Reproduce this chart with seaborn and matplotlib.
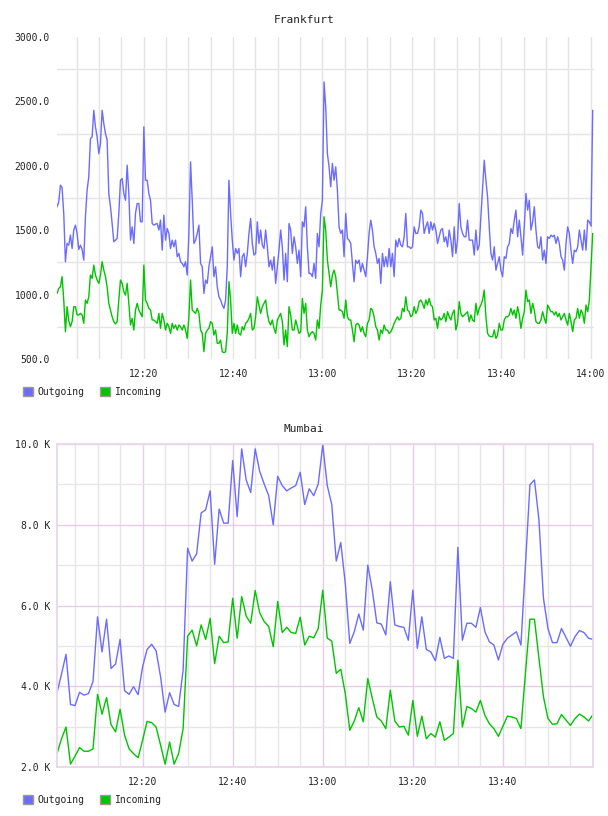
import numpy as np
import pandas as pd
import matplotlib
matplotlib.use("Agg")
import matplotlib.pyplot as plt
import matplotlib.dates as mdates
from matplotlib.ticker import FixedLocator, FuncFormatter
from matplotlib.patches import Patch
import seaborn as sns

DAY = "2024-01-01 "

# Frankfurt: one sample every 22.4 s
frankfurt_start = DAY + "12:00:37"
frankfurt_step = "22400ms"
frankfurt_out = [
    1682, 1720, 1850, 1831, 1630, 1255, 1397, 1384, 1462, 1358, 1501, 1539, 1475, 1351, 1384, 1351,
    1268, 1604, 1811, 1914, 2212, 2224, 2431, 2302, 2224, 2095, 2173, 2431, 2328, 2250, 2199, 1785,
    1682, 1552, 1410, 1423, 1436, 1630, 1888, 1901, 1785, 1733, 2005, 1785, 1423, 1526, 1397, 1630,
    1707, 1707, 1565, 1565, 2302, 1888, 1888, 1785,
    1733, 1552, 1539, 1547, 1552, 1501, 1578, 1345, 1617, 1423,
    1513, 1475, 1358, 1423, 1371, 1423, 1294, 1320, 1255, 1242,
    1216, 1255, 1152, 1475, 2031, 1733, 1397, 1423, 1475, 1539,
    1242, 1216, 1009, 1113, 1087, 1216, 1294, 1371, 1139, 1216,
    1061, 983, 958, 919, 893, 958, 1216, 1888, 1630, 1423,
    1268, 1358, 1320, 1358, 1139, 1294, 1320, 1216, 1320, 1475,
    1591, 1397, 1307, 1320, 1565, 1397, 1501, 1384, 1358, 1501,
    1371, 1216, 1268, 1190, 1294, 1087, 1216, 1345, 1501, 1371,
    1113, 1320, 1100, 1552, 1501, 1320, 1449, 1371, 1242, 1345,
    1139, 1565, 1526, 1682, 1371, 1164, 1164, 1139, 1242, 1126,
    1475, 1371, 1630, 1733, 2651, 2457, 2095, 1992, 1837, 2018,
    1888, 1992, 1811, 1526, 1475, 1501, 1294, 1630, 1436, 1423,
    1397, 1242, 1100, 1268, 1242, 1268, 1177, 1242, 1190, 1139,
    1294, 1475, 1578, 1501, 1371, 1320, 1242, 1281, 1087, 1320,
    1216, 1294, 1216, 1358, 1216, 1320, 1139, 1423, 1371, 1436,
    1384, 1371, 1449, 1630, 1371, 1371, 1358, 1371, 1526, 1475,
    1475, 1526, 1656, 1630, 1475, 1526, 1565, 1475, 1565, 1501,
    1552, 1501, 1397, 1449, 1501, 1513, 1410, 1449, 1371, 1501,
    1423, 1294, 1526, 1320, 1423, 1707, 1526, 1475, 1449, 1449,
    1578, 1423, 1423, 1423, 1307, 1501, 1345, 1384, 1604, 1837,
    2043, 1888, 1759, 1526, 1320, 1268, 1371, 1190, 1242, 1294,
    1190, 1139, 1294, 1281, 1371, 1397, 1513, 1475, 1578, 1656,
    1449, 1578, 1449, 1307, 1526, 1785, 1656, 1733, 1501, 1565,
    1682, 1501, 1371, 1358, 1449, 1268, 1345, 1242, 1449, 1436,
    1462, 1449, 1462, 1397, 1449, 1397, 1294, 1268, 1190, 1397,
    1526, 1475, 1345, 1242, 1345, 1333, 1371, 1501, 1423, 1345,
    1501, 1345, 1578, 1565, 1532, 2431,
]
frankfurt_in = [
    1009, 1048, 1061, 1139, 958, 712, 906, 797, 751, 790, 906, 906, 842, 842, 854, 842,
    777, 958, 932, 983, 1152, 1126, 1229, 1152, 1113, 1087, 1152, 1255, 1190, 1139, 1061, 932,
    880, 828, 790, 772, 790, 958, 1113, 1087, 1022, 996, 1087, 932, 764, 816, 725, 880,
    932, 880, 854, 828, 1229, 958, 932, 893,
    880, 803, 803, 790, 777, 854, 738, 854, 803, 725,
    777, 751, 699, 777, 738, 764, 725, 764, 751, 725,
    764, 725, 660, 828, 1113, 880, 867, 854, 893, 854,
    725, 699, 557, 699, 725, 738, 790, 777, 686, 725,
    622, 622, 647, 557, 549, 557, 699, 1100, 958, 699,
    777, 699, 764, 699, 686, 751, 725, 777, 790, 816,
    854, 725, 738, 828, 983, 919, 854, 906, 932, 958,
    854, 790, 764, 803, 738, 699, 803, 828, 854, 790,
    609, 725, 596, 906, 842, 725, 725, 803, 751, 699,
    712, 970, 854, 932, 725, 673, 699, 712, 699, 647,
    803, 738, 919, 1035, 1604, 1501, 1268, 1164, 1061, 1152,
    1190, 1139, 1009, 880, 880, 867, 816, 958, 828, 803,
    803, 725, 634, 764, 777, 764, 712, 751, 699, 673,
    777, 803, 893, 880, 828, 751, 725, 647, 725, 699,
    764, 725, 725, 699, 712, 738, 777, 803, 828, 803,
    816, 893, 867, 983, 880, 867, 828, 842, 906, 854,
    880, 945, 958, 932, 893, 958, 919, 970, 919, 906,
    803, 816, 738, 828, 803, 816, 854, 790, 867, 828,
    803, 854, 880, 725, 777, 945, 854, 828, 842, 854,
    867, 790, 842, 803, 790, 932, 842, 893, 919, 958,
    1035, 828, 699, 678, 673, 673, 725, 660, 686, 777,
    725, 725, 803, 828, 828, 842, 893, 842, 880, 816,
    906, 842, 738, 816, 867, 1035, 945, 958, 854, 932,
    880, 790, 777, 777, 803, 867, 816, 777, 919, 893,
    867, 867, 842, 867, 828, 854, 803, 828, 854, 803,
    764, 854, 790, 712, 803, 816, 893, 816, 880, 854,
    777, 919, 867, 958, 1216, 1475,
]

# Mumbai: one sample per minute, values in thousands
mumbai_start = DAY + "12:01:00"
mumbai_step = "1min"
mumbai_out = [
    3.84, 4.30, 4.79, 3.55, 3.52, 3.85, 3.78, 3.82, 4.12, 5.72, 4.85, 5.66, 4.44, 4.55, 5.16,
    3.89, 3.80, 3.99, 3.79, 4.48, 4.91, 5.04, 4.88,
    4.23, 3.36, 3.84, 3.55, 3.50, 4.40, 7.42, 7.10, 7.28, 8.29,
    8.37, 8.84, 7.02, 8.39, 8.04, 8.04, 9.59, 8.20, 9.88, 9.11,
    8.80, 9.88, 9.32, 9.01, 8.72, 8.00, 9.20, 8.97, 8.84, 8.91,
    8.97, 9.30,
    8.50, 8.89, 8.72, 9.01, 9.98, 8.97, 8.50, 7.10, 7.56, 6.55,
    5.06, 5.35, 5.79, 5.39, 7.00, 6.38, 5.57, 5.54, 5.27, 6.59,
    5.52, 5.48, 5.46, 5.14, 6.38, 4.94, 5.72, 4.91, 4.85, 4.63,
    5.21, 4.69, 4.75, 4.69,
    7.44, 5.14, 5.56, 5.56, 5.46, 5.95, 5.35, 5.10, 5.02, 4.65,
    5.04, 5.19, 5.27, 5.35, 5.02, 7.00, 8.99, 9.11, 8.12, 6.18,
    5.43, 5.08, 5.08, 5.43, 5.21, 4.99, 5.23, 5.38, 5.33, 5.19,
    5.16,
]
mumbai_in = [
    2.33, 2.70, 2.99, 2.07, 2.27, 2.48, 2.39, 2.39, 2.45, 3.80, 3.31, 3.72, 3.05, 2.87, 3.43,
    2.79, 2.45, 2.33, 2.23, 2.66, 3.13, 3.10, 2.99,
    2.54, 2.07, 2.62, 2.07, 2.33, 2.95, 5.24, 5.39, 5.00, 5.52,
    5.16, 5.68, 4.56, 5.24, 5.08, 5.10, 6.18, 5.19, 6.22, 5.74,
    5.56, 6.37, 5.82, 5.60, 5.48, 4.98, 6.10, 5.33, 5.46, 5.33,
    5.31, 5.71,
    5.02, 5.24, 5.20, 5.43, 6.38, 5.19, 5.12, 4.32, 4.42, 3.82,
    2.91, 3.14, 3.47, 3.12, 4.19, 3.70, 3.24, 3.14, 2.95, 3.90,
    3.14, 2.99, 3.01, 2.79, 3.65, 2.76, 3.26, 2.70, 2.83, 2.74,
    3.12, 2.66, 2.74, 2.83,
    4.65, 2.99, 3.50, 3.45, 3.36, 3.65, 3.28, 3.07, 2.95, 2.76,
    3.01, 3.26, 3.24, 3.20, 2.95, 4.32, 5.66, 5.66, 4.69, 3.74,
    3.20, 3.06, 3.07, 3.30, 3.16, 3.03, 3.20, 3.31, 3.24, 3.14,
    3.30,
]

series_names = ["Outgoing", "Incoming"]
series_colors = ["#6b6bff", "#00c400"]
frankfurt_ticks = ["12:20", "12:40", "13:00", "13:20", "13:40", "14:00"]
mumbai_ticks = ["12:20", "12:40", "13:00", "13:20", "13:40"]
frankfurt_yticks = [500, 1000, 1500, 2000, 2500, 3000]
frankfurt_ygrid = [750, 1250, 1750, 2250, 2750]
mumbai_yticks = [2, 4, 6, 8, 10]
mumbai_ygrid = [3, 5, 7, 9]


def make_frame(start, step, out_vals, in_vals):
    t = pd.date_range(start, periods=len(out_vals), freq=step)
    frames = []
    for name, vals in zip(series_names, [out_vals, in_vals]):
        frames.append(pd.DataFrame({"time": t, "rate": vals, "direction": name}))
    return pd.concat(frames, ignore_index=True)


def to_num(labels):
    return [mdates.date2num(pd.Timestamp(DAY + s)) for s in labels]


sns.set_style("white")
plt.rcParams["font.family"] = ["DejaVu Sans Mono"]
plt.rcParams["font.size"] = 7
text_color = "#222222"

W, H = 608, 816
fig = plt.figure(figsize=(W / 100, H / 100), dpi=100)
palette = dict(zip(series_names, series_colors))

ax1 = fig.add_axes([57 / W, 1 - 359 / H, 537 / W, 322 / H])
ax2 = fig.add_axes([57 / W, 1 - 767 / H, 536 / W, 323 / H])

df_f = make_frame(frankfurt_start, frankfurt_step, frankfurt_out, frankfurt_in)
df_m = make_frame(mumbai_start, mumbai_step, mumbai_out, mumbai_in)

for ax, df in [(ax1, df_f), (ax2, df_m)]:
    sns.lineplot(data=df, x="time", y="rate", hue="direction", hue_order=series_names,
                 palette=palette, estimator=None, legend=False, linewidth=1.0, ax=ax)
    ax.set_xlabel("")
    ax.set_ylabel("")
    ax.xaxis.set_minor_locator(mdates.MinuteLocator(byminute=range(0, 60, 5)))
    ax.xaxis.set_major_formatter(mdates.DateFormatter("%H:%M"))
    ax.tick_params(which="both", length=0, colors=text_color, labelsize=7)
    ax.tick_params(axis="y", pad=5)
    ax.tick_params(axis="x", pad=7)
    ax.set_axisbelow(True)

# Frankfurt
ax1.set_xlim(pd.Timestamp(DAY + "12:00:36"), pd.Timestamp(DAY + "14:00:45"))
ax1.set_ylim(500, 3000)
ax1.xaxis.set_major_locator(FixedLocator(to_num(frankfurt_ticks)))
ax1.yaxis.set_major_locator(FixedLocator(frankfurt_yticks))
ax1.yaxis.set_minor_locator(FixedLocator(frankfurt_ygrid))
ax1.yaxis.set_major_formatter(FuncFormatter(lambda v, p: f"{v:.1f}"))
ax1.grid(False)
ax1.grid(True, which="both", axis="x", color="#e4e4e4", linewidth=1.0)
ax1.grid(True, which="minor", axis="y", color="#e4e4e4", linewidth=1.0)
for s in ax1.spines.values():
    s.set_visible(False)

# Mumbai
ax2.set_xlim(pd.Timestamp(DAY + "12:01:00"), pd.Timestamp(DAY + "14:00:00"))
ax2.set_ylim(2, 10)
ax2.xaxis.set_major_locator(FixedLocator(to_num(mumbai_ticks)))
ax2.yaxis.set_major_locator(FixedLocator(mumbai_yticks))
ax2.yaxis.set_minor_locator(FixedLocator(mumbai_ygrid))
ax2.yaxis.set_major_formatter(FuncFormatter(lambda v, p: f"{v:.1f} K"))
ax2.grid(False)
ax2.grid(True, which="minor", axis="both", color="#e6e6e6", linewidth=1.0)
ax2.grid(True, which="major", axis="both", color="#e8cce8", linewidth=1.0)
for s in ax2.spines.values():
    s.set_visible(True)
    s.set_color("#ecd6ec")
    s.set_linewidth(1.3)

# titles
fig.text(0.5, 1 - 20 / H, "Frankfurt", ha="center", va="center", fontsize=8, color=text_color)
fig.text(0.5, 1 - 429 / H, "Mumbai", ha="center", va="center", fontsize=8, color=text_color)

# legends
handles = [Patch(facecolor=c, edgecolor="#9a9a9a", linewidth=1.0) for c in series_colors]
for y in [392, 800]:
    fig.legend(handles, series_names, loc="center left", bbox_to_anchor=(23 / W, 1 - y / H),
               ncol=2, frameon=False, handlelength=1.0, handleheight=1.0, handletextpad=0.5,
               columnspacing=1.6, borderpad=0, borderaxespad=0, fontsize=7,
               labelcolor=text_color)

fig.savefig("out.png", dpi=100)
